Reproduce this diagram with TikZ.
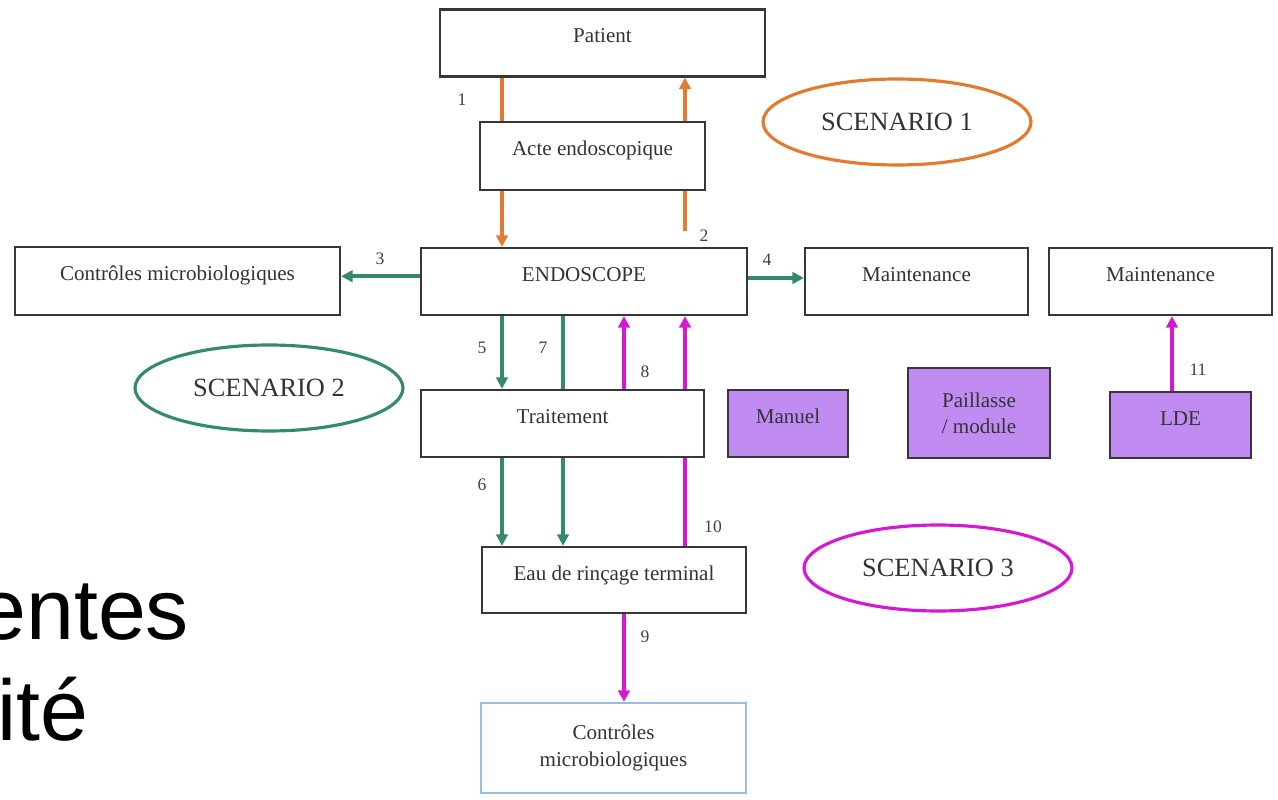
\documentclass[tikz,border=0pt]{standalone}
\usepackage{fontspec}
\setmainfont{Liberation Serif}
\newfontfamily\slidefont{Liberation Sans}
\usetikzlibrary{positioning,arrows.meta,shapes.geometric}

\definecolor{scorange}{RGB}{226,122,48}
\definecolor{scgreen}{RGB}{52,138,108}
\definecolor{scmagenta}{RGB}{214,24,210}
\definecolor{lilac}{RGB}{192,140,242}
\definecolor{paleblue}{RGB}{150,190,228}
\definecolor{boxgray}{RGB}{55,55,55}

\tikzset{
  box/.style={draw=boxgray, line width=1.3pt, fill=white, text=black!80,
    minimum height=1.34cm, inner sep=2pt, text height=8pt, text depth=8pt,
    font=\fontsize{12}{14}\selectfont},
  tallbox/.style={draw=boxgray, line width=1.3pt, fill=white, text=black!80,
    align=center, inner sep=2pt, font=\fontsize{12}{15}\selectfont},
  scen/.style={ellipse, line width=1.8pt, text=black!80, minimum width=5.36cm,
    minimum height=1.72cm, font=\fontsize{15}{18}\selectfont},
  wire/.style={line width=2pt},
  flow/.style={wire, -{Triangle[length=6.5pt,width=6.5pt]}},
  num/.style={inner sep=0pt, text=black!75, font=\fontsize{10}{12}\selectfont},
  slide/.style={anchor=base west, inner sep=0pt, font=\slidefont\fontsize{49}{55}\selectfont}
}

\begin{document}
\begin{tikzpicture}[x=0.02cm, y=-0.02cm]
    \useasboundingbox (0,0) rectangle (1278,800);

    % Slide text behind the figure
    \node[slide] (txtA) at (-22,639) {entes};
    \node[slide] (txtB) at (-3,740) {ité};

    % Boxes
    \node[box, minimum width=6.5cm] (patient) at (602.5,43) {Patient};
    \node[box, minimum width=4.5cm, minimum height=1.36cm] (acte) at (592.5,156) {Acte endoscopique};
    \node[box, minimum width=6.52cm] (endo) at (584,281.5) {ENDOSCOPE};
    \node[box, minimum width=6.5cm, minimum height=1.36cm] (ctrlA) at (177.5,281) {Contrôles microbiologiques};
    \node[box, minimum width=4.46cm] (maintA) at (916.5,281.5) {Maintenance};
    \node[box, minimum width=4.46cm] (maintB) at (1160.5,281.5) {Maintenance};
    \node[box, minimum width=5.66cm] (trait) at (562.5,423.5) {Traitement};
    \node[box, minimum width=5.28cm, minimum height=1.32cm] (eau) at (614,580) {Eau de rinçage terminal};
    \node[tallbox, draw=paleblue, minimum width=5.3cm, minimum height=1.8cm] (ctrlB) at (613.5,748) {Contrôles\\microbiologiques};

    % Lilac boxes
    \node[box, fill=lilac, minimum width=2.4cm] (manuel) at (788,423.5) {Manuel};
    \node[tallbox, fill=lilac, minimum width=2.84cm, minimum height=1.8cm] (paill) at (979,413) {Paillasse\\/ module};
    \node[box, fill=lilac, minimum width=2.82cm, minimum height=1.32cm] (lde) at (1180.5,425) {LDE};

    % Scenarios
    \node[scen, draw=scorange] (sc1) at (897,122) {SCENARIO 1};
    \node[scen, draw=scgreen] (sc2) at (269,388) {SCENARIO 2};
    \node[scen, draw=scmagenta] (sc3) at (938,568) {SCENARIO 3};

    % Columns of the vertical arrows
    \coordinate (ca) at (502,0);
    \coordinate (cb) at (563,0);
    \coordinate (cc) at (624,0);
    \coordinate (cd) at (685,0);
    \coordinate (ce) at (1172,0);

    % Scenario 1
    \draw[wire, scorange] (patient.south -| ca) -- (acte.north -| ca);
    \draw[flow, scorange] (acte.south -| ca) -- (endo.north -| ca);
    \draw[wire, scorange] ([yshift=9pt]endo.north -| cd) -- (acte.south -| cd);
    \draw[flow, scorange] (acte.north -| cd) -- (patient.south -| cd);

    % Scenario 2
    \draw[flow, scgreen] ([yshift=3pt]endo.west) -- ([yshift=3pt]endo.west -| ctrlA.east);
    \draw[flow, scgreen] ([yshift=2pt]endo.east) -- ([yshift=2pt]endo.east -| maintA.west);
    \draw[flow, scgreen] (endo.south -| ca) -- (trait.north -| ca);
    \draw[wire, scgreen] (endo.south -| cb) -- (trait.north -| cb);
    \draw[flow, scgreen] (trait.south -| ca) -- (eau.north -| ca);
    \draw[flow, scgreen] (trait.south -| cb) -- (eau.north -| cb);

    % Scenario 3
    \draw[flow, scmagenta] (trait.north -| cc) -- (endo.south -| cc);
    \draw[flow, scmagenta] (trait.north -| cd) -- (endo.south -| cd);
    \draw[wire, scmagenta] (eau.north -| cd) -- (trait.south -| cd);
    \draw[flow, scmagenta] (eau.south -| cc) -- (ctrlB.north -| cc);
    \draw[flow, scmagenta] (lde.north -| ce) -- (maintB.south -| ce);

    % Arrow numbers
    \foreach \n/\x/\y in {1/462/100, 2/704/236, 3/380/259, 4/767/260, 5/482/348, 6/482/485,
                          7/543/348, 8/645/372, 9/645/637, 10/713/527, 11/1198/370}
        \node[num] (n\n) at (\x,\y) {\n};
\end{tikzpicture}
\end{document}
